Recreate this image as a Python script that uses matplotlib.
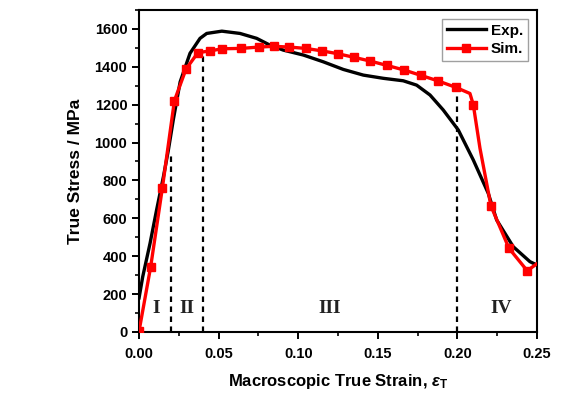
import matplotlib
matplotlib.use('Agg')
import matplotlib.pyplot as plt
from matplotlib.ticker import MultipleLocator

exp_strain = [0.0, 0.0023, 0.0069, 0.011, 0.0153, 0.0184, 0.0215, 0.0258, 0.032, 0.0383,
              0.0425, 0.052, 0.0634, 0.0739, 0.0823, 0.0906, 0.1032, 0.1158, 0.1283,
              0.1409, 0.1535, 0.166, 0.1744, 0.1828, 0.1911, 0.2006, 0.21, 0.2194,
              0.2247, 0.2351, 0.2456, 0.2498]
exp_stress = [180, 292, 468, 644, 820, 960, 1120, 1320, 1471, 1550,
              1576, 1588, 1576, 1550, 1514, 1488, 1462, 1426, 1386,
              1356, 1339, 1326, 1303, 1251, 1172, 1066, 908, 732,
              591, 450, 371, 354]

# simulation curve
sim_strain = [0.0, 0.0073, 0.0146, 0.0222, 0.0295, 0.0369, 0.0446, 0.0523, 0.0641, 0.0752,
              0.0846, 0.0944, 0.1047, 0.1148, 0.1248, 0.135, 0.1453, 0.1558, 0.1665,
              0.1773, 0.188, 0.1991, 0.2079, 0.21, 0.2142, 0.2211, 0.2324, 0.2439, 0.2498]
sim_stress = [5, 345, 758, 1221, 1388, 1474, 1484, 1495, 1497, 1504,
              1508, 1504, 1497, 1484, 1469, 1450, 1430, 1407, 1383,
              1354, 1325, 1291, 1259, 1200, 970, 665, 442, 323, 359]
# points without a marker
sim_nomark = [22, 24, 28]

# stage boundaries and labels
stage_x = [0.02, 0.04, 0.20]
stage_top = [950, 1470, 1285]
stage_labels = ['I', 'II', 'III', 'IV']
stage_label_x = [0.0107, 0.0303, 0.12, 0.2274]

plt.rcParams['font.family'] = ['Liberation Sans', 'DejaVu Sans']
plt.rcParams['font.weight'] = 'bold'
plt.rcParams['mathtext.fontset'] = 'custom'
plt.rcParams['mathtext.rm'] = 'Liberation Sans'
plt.rcParams['mathtext.it'] = 'Liberation Sans:italic'

fig = plt.figure(figsize=(5.7, 3.98), dpi=100)
ax = fig.add_axes([0.244, 0.166, 0.698, 0.809])

ax.plot(exp_strain, exp_stress, color='black', lw=2.4, label='Exp.', zorder=3)
marks = [i for i in range(len(sim_strain)) if i not in sim_nomark]
ax.plot(sim_strain, sim_stress, color='#ff0000', lw=2.4, marker='s', ms=6,
        markevery=marks, label='Sim.', zorder=4)

for x, top in zip(stage_x, stage_top):
    ax.plot([x, x], [0, top], color='black', lw=1.6, ls=(0, (2.5, 2)), zorder=2)

for lab, x in zip(stage_labels, stage_label_x):
    ax.text(x, 125, lab, ha='center', va='center', fontsize=14, fontweight='bold',
            family='Liberation Serif', color='#222222')

ax.set_xlim(0, 0.25)
ax.set_ylim(0, 1700)
ax.xaxis.set_major_locator(MultipleLocator(0.05))
ax.xaxis.set_minor_locator(MultipleLocator(0.025))
ax.yaxis.set_major_locator(MultipleLocator(200))
ax.yaxis.set_minor_locator(MultipleLocator(100))
ax.xaxis.set_major_formatter(plt.FuncFormatter(lambda v, p: f'{v:.2f}'))
ax.tick_params(which='major', direction='out', length=5, width=1.4, labelsize=10.5)
ax.tick_params(axis='x', which='major', pad=6)
ax.tick_params(which='minor', direction='out', length=3, width=1.2)
for s in ax.spines.values():
    s.set_linewidth(1.5)

ax.set_xlabel(r'Macroscopic True Strain, $\varepsilon_\mathrm{T}$', fontsize=12,
              fontweight='bold', labelpad=8)
ax.set_ylabel('True Stress / MPa', fontsize=12.5, fontweight='bold', labelpad=8)

leg = ax.legend(loc='upper right', fontsize=11, frameon=True, fancybox=False,
                edgecolor='#888888', handlelength=2.6, borderpad=0.3,
                labelspacing=0.3, handletextpad=0.3, borderaxespad=0.6)
leg.get_frame().set_linewidth(1.0)

fig.savefig('out.png', dpi=100)
